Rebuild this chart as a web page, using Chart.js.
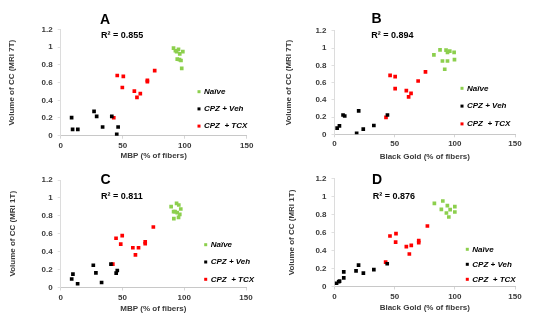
<!DOCTYPE html>
<html>
<head>
<meta charset="utf-8">
<script src="https://cdn.jsdelivr.net/npm/chart.js@4.4.0/dist/chart.umd.min.js"></script>
<style>
  body { margin: 0; background: #fff; }
  #wrap { position: relative; width: 554px; height: 325px; }
  canvas { position: absolute; }
</style>
</head>
<body>
<div id="wrap">
  <canvas id="chartA" width="277" height="162" style="left:0;top:0"></canvas>
  <canvas id="chartB" width="277" height="162" style="left:277px;top:0"></canvas>
  <canvas id="chartC" width="277" height="163" style="left:0;top:162px"></canvas>
  <canvas id="chartD" width="277" height="163" style="left:277px;top:162px"></canvas>
</div>
<script>
// group names (legend)
const groups = ['Naïve', 'CPZ + Veh', 'CPZ  + TCX'];
const groupColors = ['#8ccf4d', '#000000', '#ff0000'];

// axis ticks
const xTicks = [0, 50, 100, 150];
const yTicks = [0, 0.2, 0.4, 0.6, 0.8, 1, 1.2];

// A: MBP vs MRI 7T
const aNaive = [[91,0.99],[92.5,0.96],[93.5,0.95],[95,0.975],[96,0.925],[98.5,0.95],[94,0.865],[95.8,0.86],[97,0.85],[97.6,0.76]];
const aVeh = [[8.8,0.204],[9.6,0.072],[13.8,0.072],[26.9,0.275],[29,0.219],[33.8,0.098],[41.2,0.219],[45.2,0.015],[46.3,0.098]];
const aTcx = [[42.8,0.203],[45.6,0.68],[50.5,0.67],[49.7,0.545],[59.4,0.503],[61.5,0.433],[64.2,0.476],[69.9,0.625],[69.9,0.612],[75.8,0.735]];

// B: Black Gold vs MRI 7T
const bNaive = [[82.6,0.92],[87.7,0.978],[92.7,0.975],[93.9,0.95],[95.8,0.965],[99.4,0.95],[89.7,0.85],[93.9,0.85],[99.7,0.866],[91.6,0.754]];
const bVeh = [[2.2,0.071],[4.1,0.098],[7.1,0.224],[8.5,0.212],[20.1,0.271],[18.4,0.012],[23.9,0.059],[32.7,0.102],[44,0.224]];
const bTcx = [[42.8,0.196],[46.2,0.684],[50.4,0.668],[50.4,0.53],[59.7,0.506],[61.6,0.433],[63.6,0.474],[69.5,0.618],[75.6,0.723]];

// C: MBP vs MRI 1T
const cNaive = [[89.4,0.902],[93.8,0.94],[95.6,0.921],[91.4,0.846],[92.6,0.846],[94.3,0.835],[96.4,0.817],[97.2,0.876],[91.6,0.768],[95.4,0.783]];
const cVeh = [[8.9,0.095],[9.9,0.15],[13.7,0.042],[26.4,0.248],[28.5,0.163],[33.1,0.056],[40.7,0.26],[44.9,0.16],[45.8,0.19]];
const cTcx = [[42.2,0.26],[44.8,0.55],[49.8,0.58],[48.6,0.484],[58.4,0.444],[60.5,0.365],[63,0.444],[68.4,0.51],[68.4,0.488],[75,0.675]];

// D: Black Gold vs MRI 1T
const dNaive = [[83,0.924],[90,0.95],[93.8,0.898],[96.1,0.854],[100,0.887],[100,0.828],[88.8,0.857],[93,0.817],[95,0.772]];
const dVeh = [[1.7,0.036],[3.5,0.053],[4.2,0.06],[7.7,0.163],[7.7,0.095],[17.9,0.173],[20,0.238],[24,0.148],[32.7,0.188],[43.8,0.253]];
const dTcx = [[42.5,0.27],[46.1,0.561],[51.1,0.587],[50.8,0.494],[59.7,0.443],[63.8,0.457],[62.2,0.361],[70,0.509],[70,0.487],[77.2,0.672]];

const r2Values = ['0.855', '0.894', '0.811', '0.876'];

Chart.defaults.font.family = '"Liberation Sans", Arial, sans-serif';
Chart.defaults.color = '#3a3a3a';

// layout of each panel (pixels inside its canvas)
const panels = [
  { id: 'chartA', letter: 'A', r2: r2Values[0], xTitle: 'MBP (% of fibers)', yTitle: 'Volume of CC (MRI 7T)',
    sets: [aNaive, aVeh, aTcx], area: {l: 60.7, r: 246.7, t: 29.5, b: 135.7}, xTitleOff: 20, yTitleX: 11.5,
    letterPos: [105, 20], r2Pos: [101, 36], legendPos: [199, 91.7], legendGap: 17.2 },
  { id: 'chartB', letter: 'B', r2: r2Values[1], xTitle: 'Black Gold (% of fibers)', yTitle: 'Volume of CC (MRI 7T)',
    sets: [bNaive, bVeh, bTcx], area: {l: 57.5, r: 238, t: 30.8, b: 134.3}, xTitleOff: 22, yTitleX: 11.7,
    letterPos: [99.5, 19.5], r2Pos: [94.3, 36], legendPos: [185, 88.3], legendGap: 17.8 },
  { id: 'chartC', letter: 'C', r2: r2Values[2], xTitle: 'MBP (% of fibers)', yTitle: 'Volume of CC (MRI 1T)',
    sets: [cNaive, cVeh, cTcx], area: {l: 60.7, r: 246, t: 18, b: 125.5}, xTitleOff: 20.8, yTitleX: 13,
    letterPos: [105.5, 18], r2Pos: [101, 35], legendPos: [205.7, 82.7], legendGap: 17.3 },
  { id: 'chartD', letter: 'D', r2: r2Values[3], xTitle: 'Black Gold (% of fibers)', yTitle: 'Volume of CC (MRI 1T)',
    sets: [dNaive, dVeh, dTcx], area: {l: 57.5, r: 238, t: 16.5, b: 124.5}, xTitleOff: 21.2, yTitleX: 15,
    letterPos: [100, 18.5], r2Pos: [95.7, 35], legendPos: [190.3, 87.3], legendGap: 15 }
];

const annotate = { //draws panel letter, R² text and the legend
  id: 'annotate',
  afterDraw(chart, args, opts) {
    const p = opts.panel;
    const ctx = chart.ctx;
    ctx.save();
    ctx.fillStyle = '#000';
    ctx.textBaseline = 'middle';
    ctx.textAlign = 'center';
    ctx.font = 'bold 14px "Liberation Sans", Arial, sans-serif';
    ctx.fillText(p.letter, p.letterPos[0], p.letterPos[1]);
    ctx.textAlign = 'left';
    ctx.font = 'bold 9px "Liberation Sans", Arial, sans-serif';
    ctx.fillText('R² = ' + p.r2, p.r2Pos[0], p.r2Pos[1]);
    ctx.font = 'italic bold 8px "Liberation Sans", Arial, sans-serif';
    chart.data.datasets.forEach((ds, i) => {
      const y = p.legendPos[1] + i * p.legendGap;
      ctx.fillStyle = ds.backgroundColor;
      ctx.fillRect(p.legendPos[0] - 1.5, y - 1.5, 3, 3);
      ctx.fillStyle = '#000';
      ctx.fillText(ds.label, p.legendPos[0] + 5, y);
    });
    ctx.restore();
  }
};

panels.forEach(p => {
  const canvas = document.getElementById(p.id);
  const W = canvas.width, H = canvas.height;
  const lineH = 8 * 1.2;
  const padBottom = H - (p.area.b + p.xTitleOff) - lineH / 2;

  new Chart(canvas.getContext('2d'), {
    type: 'scatter',
    data: {
      datasets: p.sets.map((set, i) => ({
        label: groups[i],
        data: set.map(pt => ({x: pt[0], y: pt[1]})),
        backgroundColor: groupColors[i],
        borderWidth: 0,
        pointStyle: 'rect',
        pointRadius: 2.6
      }))
    },
    options: {
      responsive: false,
      animation: false,
      layout: { padding: { left: 0, top: p.area.t, right: W - p.area.r, bottom: padBottom } },
      plugins: {
        legend: { display: false },
        tooltip: { enabled: false },
        annotate: { panel: p }
      },
      scales: {
        x: {
          type: 'linear', min: 0, max: 150,
          afterBuildTicks: s => { s.ticks = xTicks.map(v => ({value: v})); },
          afterFit: s => { s.height = H - padBottom - p.area.b; },
          grid: { drawOnChartArea: false, color: '#d6d6d6', tickLength: 3 },
          border: { color: '#c8c8c8' },
          ticks: { font: { size: 8, weight: 'bold' }, padding: 2, maxRotation: 0, autoSkip: false },
          title: { display: true, text: p.xTitle, font: { size: 8, weight: 'bold' }, padding: 0 }
        },
        y: {
          min: 0, max: 1.2,
          afterBuildTicks: s => { s.ticks = yTicks.map(v => ({value: v})); },
          afterFit: s => { s.width = p.area.l; },
          grid: { drawOnChartArea: false, color: '#e0e0e0', tickLength: 3 },
          border: { color: '#dcdcdc' },
          ticks: { font: { size: 8, weight: 'bold' }, padding: 5, autoSkip: false,
                   callback: v => String(v) },
          title: { display: true, text: p.yTitle, font: { size: 8, weight: 'bold' },
                   padding: { top: p.yTitleX - lineH / 2, bottom: 0 } }
        }
      }
    },
    plugins: [annotate]
  });
});
</script>
</body>
</html>
